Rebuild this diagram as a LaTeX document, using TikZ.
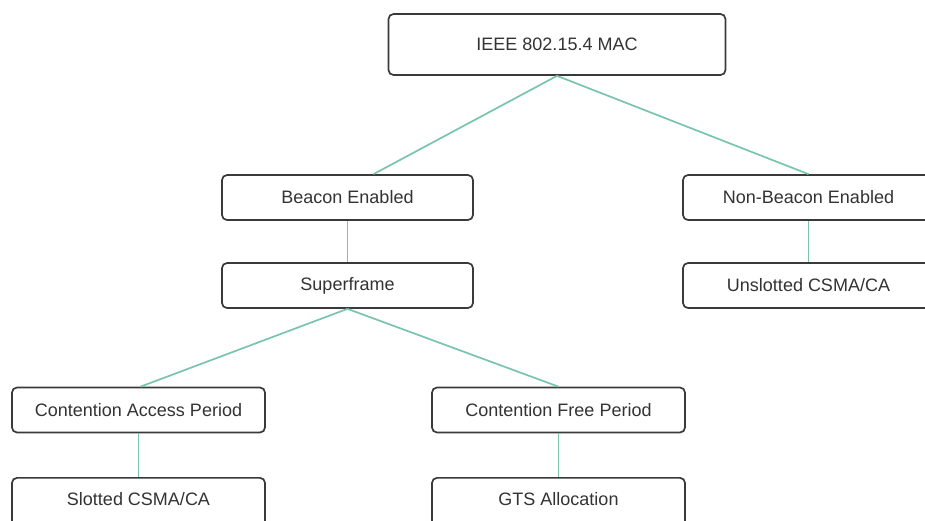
\documentclass[tikz,border=0pt]{standalone}
\usepackage{fontspec}
\setmainfont{Liberation Sans}
\definecolor{boxline}{HTML}{3A3A3A}
\definecolor{boxtext}{HTML}{333333}
\definecolor{linkcol}{HTML}{78C4AE}
\begin{document}
\begin{tikzpicture}[x=1pt,y=-1pt,
  lbl/.style={text=boxtext, font=\fontsize{18}{20}\selectfont},
  box/.style={draw=boxline, line width=1.7pt, rounded corners=5pt, fill=white,
    lbl, minimum height=45pt, inner sep=0pt},
  wide/.style={minimum width=251pt},
  link/.style={draw=linkcol, line width=1.7pt}]
\useasboundingbox (0,0) rectangle (925,520);
\clip (0,0) rectangle (925,520);

% tree of MAC modes
\node[box, minimum width=337pt, minimum height=61pt] (mac) at (557,44.5) {IEEE 802.15.4 MAC};
\node[box, wide] (beacon) at (347.5,197.5) {Beacon Enabled};
\node[box, wide] (nonbeacon) at (808.5,197.5) {Non-Beacon Enabled};
\node[box, wide] (superframe) at (347.5,285.5) {Superframe};
\node[box, wide] (unslotted) at (808.5,285.5) {Unslotted CSMA/CA};
\node[box, minimum width=253pt] (cap) at (138.5,410) {Contention Access Period};
\node[box, minimum width=253pt] (cfp) at (558.5,410) {Contention Free Period};
\node[box, minimum width=253pt, minimum height=50pt, anchor=north] (slotted) at (138.5,477) {};
\node[lbl] (slottedtxt) at (138.5,499) {Slotted CSMA/CA};
\node[box, minimum width=253pt, minimum height=50pt, anchor=north] (gts) at (558.5,477) {};
\node[lbl] (gtstxt) at (558.5,499) {GTS Allocation};

% connectors
\draw[link] (mac.south) -- ([xshift=26pt]beacon.north);
\draw[link] (mac.south) -- (nonbeacon.north);
\draw[link] (beacon.south) -- (superframe.north);
\draw[link] (nonbeacon.south) -- (unslotted.north);
\draw[link] (superframe.south) -- ([xshift=2pt]cap.north);
\draw[link] (superframe.south) -- (cfp.north);
\draw[link] (cap.south) -- (slotted.north);
\draw[link] (cfp.south) -- (gts.north);
\end{tikzpicture}
\end{document}
